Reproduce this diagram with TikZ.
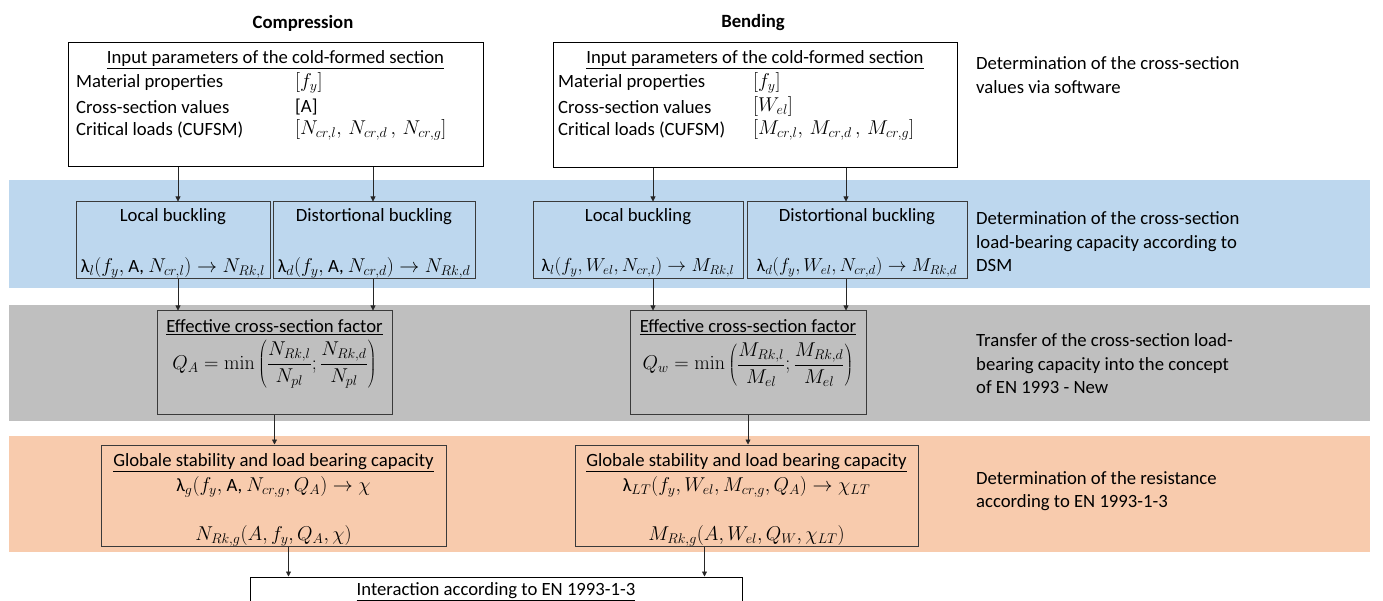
\documentclass[tikz,border=0pt]{standalone}
\usepackage{fix-cm}
\usepackage[no-math]{fontspec}
\setmainfont{Carlito}
\DeclareMathSizes{18.7}{20}{14}{10}
\DeclareMathSizes{18}{18.8}{13}{10}
\usetikzlibrary{arrows.meta,fit,positioning}

\definecolor{dsmblue}{HTML}{BDD7EE}
\definecolor{transgray}{HTML}{BFBFBF}
\definecolor{resorange}{HTML}{F8CBAD}
\definecolor{boxline}{HTML}{3A3A3A}

\tikzset{
  every node/.style={font=\fontsize{18.7}{23.5}\selectfont, inner sep=0pt},
  tight/.style={font=\fontsize{18}{23.5}\selectfont},
  box/.style={draw=boxline, line width=1pt, inner sep=0pt},
  note/.style={anchor=west, align=left},
  arr/.style={->, draw=black!85, line width=0.8pt}
}

\begin{document}
\begin{tikzpicture}[x=1pt,y=-1pt,>={Triangle[length=5pt,width=5pt]}]
  \useasboundingbox (0,0) rectangle (1383,601);

  % bands
  \fill[dsmblue] (9,180) rectangle (1370,288);
  \fill[transgray] (9,305) rectangle (1370,421);
  \fill[resorange] (9,436) rectangle (1370,552);

  % column heads
  \node[font=\fontsize{18.7}{23.5}\selectfont\bfseries] (hC) at (303,23) {Compression};
  \node[font=\fontsize{18.7}{23.5}\selectfont\bfseries] (hB) at (753,23) {Bending};

  % input boxes
  \node[box, draw=black, fit={(68,43) (483,167)}] (inC) {};
  \node (inCt) at ([yshift=-17pt]inC.north) {\underline{Input parameters of the cold-formed section}};
  \node[anchor=west] (inC1) at (76,83) {Material properties};
  \node[anchor=west] (inC2) at (76,107) {Cross-section values};
  \node[anchor=west] (inC3) at (76,130) {Critical loads (CUFSM)};
  \node[anchor=west] (inC4) at (295,83) {$[f_y]$};
  \node[anchor=west] (inC5) at (295,107) {[A]};
  \node[anchor=west] (inC6) at (295,130) {$[N_{cr,l},\, N_{cr,d}\,,\, N_{cr,g}]$};

  \node[box, draw=black, fit={(553,43) (957,168)}] (inB) {};
  \node (inBt) at ([yshift=-17pt]inB.north) {\underline{Input parameters of the cold-formed section}};
  \node[anchor=west] (inB1) at (558,83) {Material properties};
  \node[anchor=west] (inB2) at (558,107) {Cross-section values};
  \node[anchor=west] (inB3) at (558,130) {Critical loads (CUFSM)};
  \node[anchor=west] (inB4) at (753,83) {$[f_y]$};
  \node[anchor=west] (inB5) at (753,107) {$[W_{el}]$};
  \node[anchor=west] (inB6) at (753,130) {$[M_{cr,l},\, M_{cr,d}\,,\, M_{cr,g}]$};

  % DSM boxes
  \node[box, fill=dsmblue, fit={(76,202) (270,279)}] (locC) {};
  \node[box, fill=dsmblue, fit={(273,202) (475,279)}] (disC) {};
  \node[box, fill=dsmblue, fit={(533,202) (743,279)}] (locB) {};
  \node[box, fill=dsmblue, fit={(747,202) (967,279)}] (disB) {};
  \node (locCt) at ([yshift=-15pt]locC.north) {Local buckling};
  \node (disCt) at ([yshift=-15pt]disC.north) {Distortional buckling};
  \node (locBt) at ([yshift=-15pt]locB.north) {Local buckling};
  \node (disBt) at ([yshift=-15pt]disB.north) {Distortional buckling};
  \node (locCf) at ([yshift=12pt]locC.south) {λ$_l(f_y,$ A, $N_{cr,l})\rightarrow N_{Rk,l}$};
  \node (disCf) at ([yshift=12pt]disC.south) {λ$_d(f_y,$ A, $N_{cr,d})\rightarrow N_{Rk,d}$};
  \node[tight] (locBf) at ([yshift=12pt]locB.south) {λ$_l(f_y, W_{el}, N_{cr,l})\rightarrow M_{Rk,l}$};
  \node[tight] (disBf) at ([yshift=12pt]disB.south) {λ$_d(f_y, W_{el}, N_{cr,d})\rightarrow M_{Rk,d}$};

  % effective factor boxes
  \node[box, fill=transgray, fit={(157,311) (392,414)}] (effC) {};
  \node[box, fill=transgray, fit={(630,311) (866,414)}] (effB) {};
  \node (effCt) at ([yshift=-17pt]effC.north) {\underline{Effective cross-section factor}};
  \node (effBt) at ([yshift=-17pt]effB.north) {\underline{Effective cross-section factor}};
  \node (effCf) at ([yshift=-54pt]effC.north) {$\displaystyle Q_A = \min\left(\frac{N_{Rk,l}}{N_{pl}};\frac{N_{Rk,d}}{N_{pl}}\right)$};
  \node (effBf) at ([yshift=-54pt]effB.north) {$\displaystyle Q_w = \min\left(\frac{M_{Rk,l}}{M_{el}};\frac{M_{Rk,d}}{M_{el}}\right)$};

  % global stability boxes
  \node[box, fill=resorange, fit={(101,445) (446,546)}] (gloC) {};
  \node[box, fill=resorange, fit={(575,445) (918,546)}] (gloB) {};
  \node (gloCt) at ([yshift=-18pt]gloC.north) {\underline{Globale stability and load bearing capacity}};
  \node (gloBt) at ([yshift=-18pt]gloB.north) {\underline{Globale stability and load bearing capacity}};
  \node (gloCf) at ([yshift=-42pt]gloC.north) {λ$_g(f_y,$ A, $N_{cr,g}, Q_A)\rightarrow \chi$};
  \node (gloBf) at ([yshift=-42pt]gloB.north) {λ$_{LT}(f_y,W_{el}, M_{cr,g}, Q_A)\rightarrow \chi_{LT}$};
  \node (gloCg) at ([yshift=11pt]gloC.south) {$N_{Rk,g}(A, f_y, Q_A, \chi)$};
  \node (gloBg) at ([yshift=11pt]gloB.south) {$M_{Rk,g}(A, W_{el}, Q_W, \chi_{LT})$};

  % interaction
  \node[box, draw=black, fit={(250,577) (742,630)}] (intr) {};
  \node (intrt) at ([yshift=-15pt]intr.north) {\underline{Interaction according to EN 1993-1-3}};

  % notes
  \node[note] (n1) at (976,75) {Determination of the cross-section\\values via software};
  \node[note] (n2) at (976,242) {Determination of the cross-section\\load-bearing capacity according to\\DSM};
  \node[note] (n3) at (976,364) {Transfer of the cross-section load-\\bearing capacity into the concept\\of EN 1993 - New};
  \node[note] (n4) at (976,491) {Determination of the resistance\\according to EN 1993-1-3};

  % connectors
  \coordinate (aC1) at ([xshift=5pt]locC.north);
  \coordinate (aC2) at ([xshift=-1pt]disC.north);
  \coordinate (aB1) at ([xshift=15pt]locB.north);
  \coordinate (aB2) at ([xshift=-11pt]disB.north);
  \coordinate (iC) at ([xshift=15pt]gloC.south);
  \coordinate (iB) at ([xshift=-42pt]gloB.south);

  \draw[arr] (aC1 |- inC.south) -- (aC1);
  \draw[arr] (aC2 |- inC.south) -- (aC2);
  \draw[arr] (aB1 |- inB.south) -- (aB1);
  \draw[arr] (aB2 |- inB.south) -- (aB2);
  \draw[arr] (aC1 |- locC.south) -- (aC1 |- effC.north);
  \draw[arr] (aC2 |- disC.south) -- (aC2 |- effC.north);
  \draw[arr] (aB1 |- locB.south) -- (aB1 |- effB.north);
  \draw[arr] (aB2 |- disB.south) -- (aB2 |- effB.north);
  \draw[arr] (effC.south) -- (effC.south |- gloC.north);
  \draw[arr] (effB.south) -- (effB.south |- gloB.north);
  \draw[arr] (iC) -- (iC |- intr.north);
  \draw[arr] (iB) -- (iB |- intr.north);
\end{tikzpicture}
\end{document}
